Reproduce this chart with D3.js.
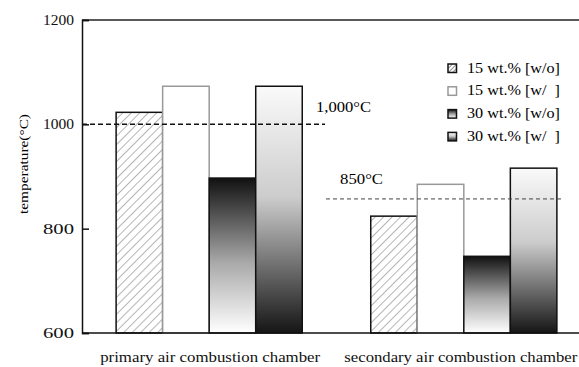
<!DOCTYPE html>
<html><head><meta charset="utf-8">
<script src="https://cdn.jsdelivr.net/npm/d3@7"></script>
<style>body{margin:0;background:#fff}svg{display:block}</style>
</head><body>
<svg id="c" width="579" height="367"></svg>
<script>
const categories = ["primary air combustion chamber", "secondary air combustion chamber"];
const seriesNames = ["15 wt.% [w/o]", "15 wt.% [w/  ]", "30 wt.% [w/o]", "30 wt.% [w/  ]"];
const primaryValues = [1023, 1073, 897, 1073];
const secondaryValues = [824, 885, 747, 916];
const yTicks = [600, 800, 1000, 1200];
const refLines = [{value: 1000, label: "1,000°C"}, {value: 857, label: "850°C"}];

const FONT = "'Liberation Serif', 'Times New Roman', serif";
const svg = d3.select("#c");
const y = d3.scaleLinear().domain([600, 1200]).range([333, 20]);
const x0 = d3.scaleBand().domain(categories).range([82, 591]).paddingInner(0.269).paddingOuter(0.134);
const x1 = d3.scaleBand().domain(seriesNames).range([0, x0.bandwidth()]).padding(0);

const defs = svg.append("defs");
const hatch = defs.append("pattern").attr("id","hatch").attr("patternUnits","userSpaceOnUse")
  .attr("width",6).attr("height",6).attr("patternTransform","rotate(45)");
hatch.append("rect").attr("width",6).attr("height",6).attr("fill","#fff");
hatch.append("line").attr("x1",0).attr("y1",0).attr("x2",0).attr("y2",6).attr("stroke","#777").attr("stroke-width",1.1);
const hatchSmall = defs.append("pattern").attr("id","hatchS").attr("patternUnits","userSpaceOnUse")
  .attr("width",3).attr("height",3).attr("patternTransform","rotate(45)");
hatchSmall.append("rect").attr("width",3).attr("height",3).attr("fill","#fff");
hatchSmall.append("line").attr("x1",0).attr("y1",0).attr("x2",0).attr("y2",3).attr("stroke","#444").attr("stroke-width",1.2);
const gDown = defs.append("linearGradient").attr("id","gDown").attr("x1",0).attr("y1",0).attr("x2",0).attr("y2",1);
gDown.append("stop").attr("offset","0%").attr("stop-color","#111");
gDown.append("stop").attr("offset","55%").attr("stop-color","#aaa");
gDown.append("stop").attr("offset","100%").attr("stop-color","#fff");
const gUp = defs.append("linearGradient").attr("id","gUp").attr("x1",0).attr("y1",0).attr("x2",0).attr("y2",1);
gUp.append("stop").attr("offset","0%").attr("stop-color","#fafafa");
gUp.append("stop").attr("offset","45%").attr("stop-color","#ccc");
gUp.append("stop").attr("offset","100%").attr("stop-color","#151515");

const fills = ["url(#hatch)", "#fff", "url(#gDown)", "url(#gUp)"];
const legendFills = ["url(#hatchS)", "#fff", "url(#gDown)", "url(#gUp)"];
const strokes = ["#111", "#999", "#111", "#111"];

const data = [primaryValues, secondaryValues];
categories.forEach((cat, ci) => {
  const g = svg.append("g").attr("transform", `translate(${x0(cat)},0)`);
  g.selectAll("rect").data(data[ci]).join("rect")
    .attr("x", (d, i) => x1(seriesNames[i]))
    .attr("y", d => y(d))
    .attr("width", x1.bandwidth())
    .attr("height", d => y(600) - y(d))
    .attr("fill", (d, i) => fills[i])
    .attr("stroke", (d, i) => strokes[i])
    .attr("stroke-width", 1.5);
});

// axes
svg.append("line").attr("x1",82).attr("x2",579).attr("y1",y(1200)).attr("y2",y(1200)).attr("stroke","#222").attr("stroke-width",1.5);
const ya = svg.append("g").attr("transform","translate(82,0)")
  .call(d3.axisLeft(y).tickValues(yTicks).tickSize(-7).tickPadding(8).tickFormat(d3.format("d")));
ya.select(".domain").attr("stroke","#111").attr("stroke-width",1.5);
ya.selectAll(".tick line").attr("stroke","#111").attr("stroke-width",1.5);
ya.selectAll("text").attr("font-size",14).attr("fill","#111").style("font-family",FONT)
  .attr("textLength",31).attr("lengthAdjust","spacingAndGlyphs");
const xa = svg.append("g").attr("transform",`translate(0,${y(600)})`)
  .call(d3.axisBottom(x0).tickSize(0).tickPadding(19));
xa.select(".domain").attr("d","M82,0H579").attr("stroke","#111").attr("stroke-width",1.5);
xa.selectAll("text").attr("font-size",14).attr("fill","#111").style("font-family",FONT)
  .attr("x",(d,i)=> i===0 ? 1 : -3)
  .attr("textLength",(d,i)=> i===0 ? 220 : 233).attr("lengthAdjust","spacingAndGlyphs");

// reference lines
svg.append("line").attr("x1",82).attr("x2",325).attr("y1",y(refLines[0].value)).attr("y2",y(refLines[0].value))
  .attr("stroke","#111").attr("stroke-width",1.5).attr("stroke-dasharray","5,3");
svg.append("text").attr("x",316).attr("y",y(refLines[0].value)-12).attr("font-size",14).style("font-family",FONT)
  .attr("textLength",55).attr("lengthAdjust","spacingAndGlyphs").text(refLines[0].label);
svg.append("line").attr("x1",326).attr("x2",561).attr("y1",y(refLines[1].value)).attr("y2",y(refLines[1].value))
  .attr("stroke","#444").attr("stroke-width",1).attr("stroke-dasharray","4,3");
svg.append("text").attr("x",340).attr("y",y(refLines[1].value)-15).attr("font-size",14).style("font-family",FONT)
  .attr("textLength",43).attr("lengthAdjust","spacingAndGlyphs").text(refLines[1].label);

// y title
svg.append("text").attr("transform","translate(28,164) rotate(-90)").attr("text-anchor","middle")
  .attr("font-size",13).style("font-family",FONT)
  .attr("textLength",100).attr("lengthAdjust","spacingAndGlyphs").text("temperature(°C)");

// legend
const lg = svg.append("g").attr("transform","translate(448,0)");
seriesNames.forEach((s, i) => {
  const cy = 68 + i * 22.8;
  lg.append("rect").attr("x",0).attr("y",cy-4).attr("width",8.5).attr("height",8.5)
    .attr("fill", legendFills[i]).attr("stroke", strokes[i]).attr("stroke-width",1.5);
  lg.append("text").attr("x",19).attr("y",cy+4.5).attr("font-size",14).style("font-family",FONT)
    .style("white-space","pre").attr("textLength",93).attr("lengthAdjust","spacingAndGlyphs").text(s);
});
</script>
</body></html>
